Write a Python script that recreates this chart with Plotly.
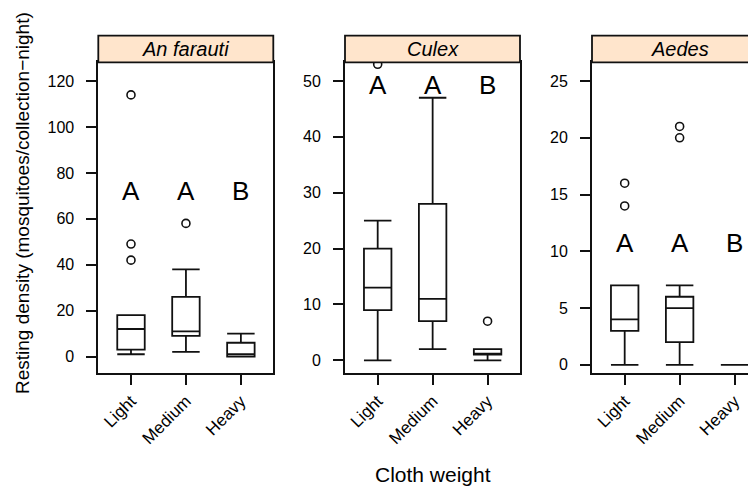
import plotly.graph_objects as go

# ---------------- data ----------------
categories = ["Light", "Medium", "Heavy"]
species = ["An farauti", "Culex", "Aedes"]

# box statistics per species (Light, Medium, Heavy)
farauti_q1 = [3, 9, 0]
farauti_median = [12, 11, 1]
farauti_q3 = [18, 26, 6]
farauti_low = [1, 2, 0]
farauti_high = [18, 38, 10]
farauti_out_x = ["Light", "Light", "Light", "Medium"]
farauti_out_y = [114, 49, 42, 58]

culex_q1 = [9, 7, 1]
culex_median = [13, 11, 1]
culex_q3 = [20, 28, 2]
culex_low = [0, 2, 0]
culex_high = [25, 47, 2]
culex_out_x = ["Light", "Heavy"]
culex_out_y = [53, 7]

aedes_q1 = [3, 2, 0]
aedes_median = [4, 5, 0]
aedes_q3 = [7, 6, 0]
aedes_low = [0, 0, 0]
aedes_high = [7, 7, 0]
aedes_out_x = ["Light", "Light", "Medium", "Medium"]
aedes_out_y = [16, 14, 21, 20]

# significance letters and their heights
letters = ["A", "A", "B"]
letter_y = [72, 49.3, 10.7]

y_ranges = [[-7, 128.2], [-2.2, 53.35], [-0.68, 26.65]]
y_dticks = [20, 10, 5]

# ---------------- layout geometry (page pixels; page body has 8px margin) ----------------
OFF = 8
W, H = 756 - OFF, 488 - OFF
panel_left = [98.3 - OFF, 345.0 - OFF, 592.0 - OFF]
panel_w = 175.0
plot_top, plot_bot = 62.3 - OFF, 372.6 - OFF
strip_top = 35.7 - OFF
xr0, xr1 = -0.595, 2.59

FONT = "Liberation Sans, Arial, sans-serif"
LINE = "#111111"
LW = 1.8

fig = go.Figure()

stats = [
    (farauti_q1, farauti_median, farauti_q3, farauti_low, farauti_high, farauti_out_x, farauti_out_y),
    (culex_q1, culex_median, culex_q3, culex_low, culex_high, culex_out_x, culex_out_y),
    (aedes_q1, aedes_median, aedes_q3, aedes_low, aedes_high, aedes_out_x, aedes_out_y),
]

for i, (q1, med, q3, lo, hi, ox, oy) in enumerate(stats):
    xa = "x" if i == 0 else f"x{i+1}"
    ya = "y" if i == 0 else f"y{i+1}"
    fig.add_trace(go.Box(
        x=categories, q1=q1, median=med, q3=q3, lowerfence=lo, upperfence=hi,
        width=0.5, whiskerwidth=1, boxpoints=False,
        line=dict(color=LINE, width=LW), fillcolor="rgba(0,0,0,0)",
        xaxis=xa, yaxis=ya, showlegend=False, hoverinfo="skip",
    ))
    fig.add_trace(go.Scatter(
        x=ox, y=oy, mode="markers", cliponaxis=True,
        marker=dict(symbol="circle-open", size=8, color=LINE, line=dict(width=1.6, color=LINE)),
        xaxis=xa, yaxis=ya, showlegend=False, hoverinfo="skip",
    ))
    for c, t in zip(categories, letters):
        fig.add_annotation(x=c, y=letter_y[i], xref=xa, yref=ya, text=t, showarrow=False,
                           xanchor="center", yanchor="middle",
                           font=dict(family=FONT, size=26, color="#000"))

layout = dict(
    width=W, height=H, margin=dict(l=0, r=0, t=0, b=0),
    paper_bgcolor="white", plot_bgcolor="white",
    font=dict(family=FONT, size=16, color="#000"),
)

ydom = [1 - plot_bot / H, 1 - plot_top / H]
shapes = []
for i in range(3):
    x0 = panel_left[i]
    x1 = min(x0 + panel_w, W)
    dom = [x0 / W, x1 / W]
    rng = [xr0, xr0 + (xr1 - xr0) * (x1 - x0) / panel_w]
    key = "" if i == 0 else str(i + 1)
    layout["xaxis" + key] = dict(
        domain=dom, range=rng, type="category", categoryorder="array", categoryarray=categories,
        showline=True, linecolor=LINE, linewidth=LW, mirror=True,
        ticks="outside", ticklen=10, tickwidth=LW, tickcolor=LINE,
        tickangle=-45, tickfont=dict(size=17, color="#000"), showgrid=False, zeroline=False,
        anchor="y" + key,
    )
    layout["yaxis" + key] = dict(
        domain=ydom, range=y_ranges[i], dtick=y_dticks[i], tick0=0,
        showline=True, linecolor=LINE, linewidth=LW, mirror=(i < 2),
        ticks="outside", ticklen=10, tickwidth=LW, tickcolor=LINE,
        ticklabelstandoff=9, tickfont=dict(size=16, color="#000"), showgrid=False, zeroline=False,
        anchor="x" + key,
    )
    # strip header
    sx1 = x0 + panel_w
    shapes.append(dict(type="rect", xref="paper", yref="paper",
                       x0=x0 / W, x1=sx1 / W, y0=1 - plot_top / H, y1=1 - strip_top / H,
                       fillcolor="#FFE5CC", line=dict(color=LINE, width=LW), layer="above"))

layout["shapes"] = shapes
fig.update_layout(**layout)

for i in range(3):
    cx = (panel_left[i] + panel_w / 2) / W
    fig.add_annotation(x=cx, y=1 - (strip_top + plot_top) / 2 / H, xref="paper", yref="paper",
                       text=f"<i>{species[i]}</i>", showarrow=False,
                       xanchor="center", yanchor="middle",
                       font=dict(family=FONT, size=20, color="#000"))

fig.add_annotation(x=(22 - OFF) / W, y=1 - (203 - OFF) / H, xref="paper", yref="paper",
                   text="Resting density (mosquitoes/collection\u2212night)", textangle=-90,
                   showarrow=False, xanchor="center", yanchor="middle",
                   font=dict(family=FONT, size=19, color="#000"))
fig.add_annotation(x=(432.5 - OFF) / W, y=1 - (474.5 - OFF) / H, xref="paper", yref="paper",
                   text="Cloth weight", showarrow=False, xanchor="center", yanchor="middle",
                   font=dict(family=FONT, size=21, color="#000"))

fig.write_html("out.html")
